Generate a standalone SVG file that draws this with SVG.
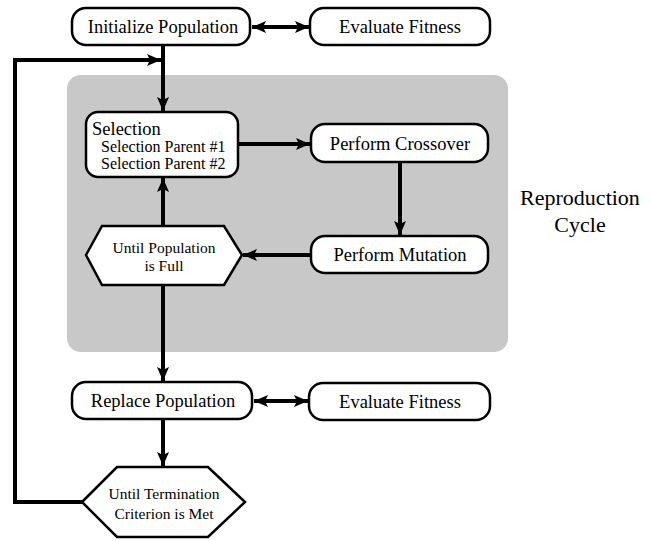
<svg xmlns="http://www.w3.org/2000/svg" width="651" height="541" viewBox="0 0 651 541">
<defs>
<marker id="ah" markerUnits="userSpaceOnUse" markerWidth="16" markerHeight="14" viewBox="0 0 16 14" refX="14" refY="7" orient="auto-start-reverse">
<path d="M0,1 L14,7 L0,13 L3,7 Z" fill="#000"/>
</marker>
</defs>
<style>
.box{fill:#fff;stroke:#000;stroke-width:2.5}
.t{font-family:"Liberation Serif","Times New Roman",serif;font-size:18.5px;fill:#000;text-anchor:middle}
.s{font-family:"Liberation Serif","Times New Roman",serif;font-size:16px;fill:#000}
.h{font-family:"Liberation Serif","Times New Roman",serif;font-size:15.5px;fill:#000;text-anchor:middle}
.c{fill:none;stroke:#000;stroke-width:4}
</style>
<rect x="67" y="75" width="441" height="277" rx="14" fill="#c8c8c8"/>
<g id="connectors">
<line class="c" x1="252" y1="27" x2="309" y2="27" marker-start="url(#ah)" marker-end="url(#ah)"/>
<line class="c" x1="163" y1="46" x2="163" y2="111" marker-end="url(#ah)"/>
<polyline class="c" points="82,502 15,502 15,60 161,60" marker-end="url(#ah)"/>
<line class="c" x1="238" y1="144" x2="310" y2="144" marker-end="url(#ah)"/>
<line class="c" x1="400" y1="163" x2="400" y2="235" marker-end="url(#ah)"/>
<line class="c" x1="311" y1="255" x2="243" y2="255" marker-end="url(#ah)"/>
<line class="c" x1="163" y1="226" x2="163" y2="178" marker-end="url(#ah)"/>
<line class="c" x1="163" y1="285" x2="163" y2="381" marker-end="url(#ah)"/>
<line class="c" x1="254" y1="401" x2="308" y2="401" marker-start="url(#ah)" marker-end="url(#ah)"/>
<line class="c" x1="163" y1="420" x2="163" y2="466" marker-end="url(#ah)"/>
</g>
<g id="init">
<rect class="box" x="72" y="8" width="178" height="37" rx="14"/>
<text class="t" x="163" y="33">Initialize Population</text>
</g>
<g id="eval1">
<rect class="box" x="310" y="8" width="180" height="37" rx="14"/>
<text class="t" x="400" y="33">Evaluate Fitness</text>
</g>
<g id="selection">
<rect class="box" x="86" y="112" width="152" height="65" rx="12"/>
<text class="s" x="92" y="135" style="font-size:18.5px">Selection</text>
<text class="s" x="101" y="152">Selection Parent #1</text>
<text class="s" x="101" y="169">Selection Parent #2</text>
</g>
<g id="crossover">
<rect class="box" x="311" y="124" width="177" height="38" rx="14"/>
<text class="t" x="400" y="150">Perform Crossover</text>
</g>
<g id="mutation">
<rect class="box" x="311" y="236" width="177" height="37" rx="14"/>
<text class="t" x="400" y="261">Perform Mutation</text>
</g>
<g id="untilPop">
<polygon class="box" points="86,255 102,226 224,226 242,255 224,285 102,285"/>
<text class="h" x="164" y="253">Until Population</text>
<text class="h" x="164" y="271">is Full</text>
</g>
<g id="replace">
<rect class="box" x="72" y="382" width="180" height="37" rx="14"/>
<text class="t" x="163" y="407">Replace Population</text>
</g>
<g id="eval2">
<rect class="box" x="309" y="383" width="181" height="37" rx="14"/>
<text class="t" x="400" y="408">Evaluate Fitness</text>
</g>
<g id="untilTerm">
<polygon class="box" points="82,502 117,467 208,467 245,502 208,537 117,537"/>
<text class="h" x="164" y="499">Until Termination</text>
<text class="h" x="164" y="519">Criterion is Met</text>
</g>
<g id="label">
<text class="t" x="580" y="205" style="font-size:22px">Reproduction</text>
<text class="t" x="580" y="232" style="font-size:22px">Cycle</text>
</g>
</svg>
